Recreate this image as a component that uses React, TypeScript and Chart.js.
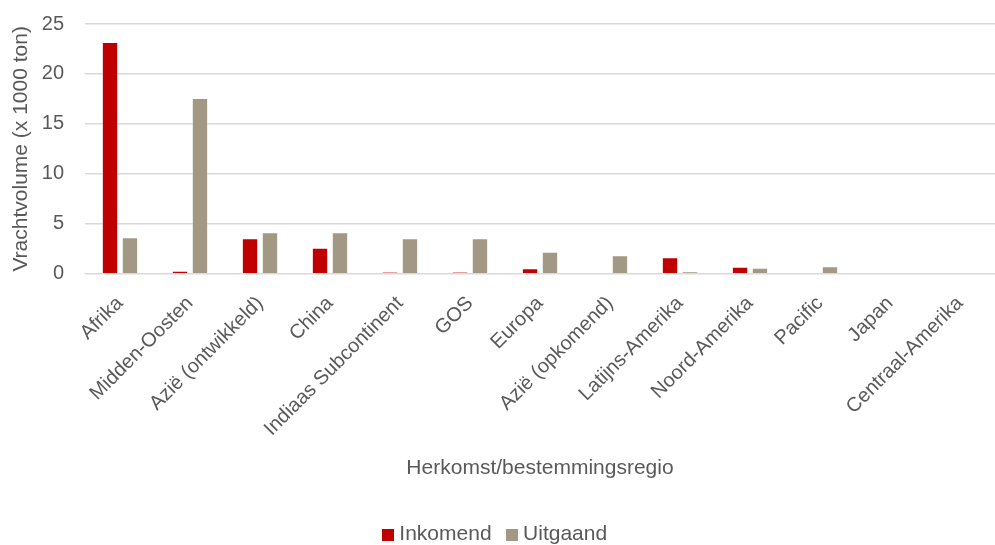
import React, { useEffect, useRef } from "react";
import { Chart, registerables } from "chart.js";

Chart.register(...registerables);

const categories = [
  "Afrika",
  "Midden-Oosten",
  "Azië (ontwikkeld)",
  "China",
  "Indiaas Subcontinent",
  "GOS",
  "Europa",
  "Azië (opkomend)",
  "Latijns-Amerika",
  "Noord-Amerika",
  "Pacific",
  "Japan",
  "Centraal-Amerika",
];

const inkomend = [23.2, 0.3, 3.55, 2.6, 0.15, 0.15, 0.55, 0, 1.65, 0.7, 0, 0.05, 0];
const uitgaand = [3.65, 17.6, 4.15, 4.15, 3.55, 3.55, 2.2, 1.85, 0.2, 0.6, 0.75, 0.05, 0.05];

const yTicks = [0, 5, 10, 15, 20, 25];

const seriesColors = ["#c00000", "#a29884"];

function makeSwatch(color: string): HTMLCanvasElement {
  const c = document.createElement("canvas");
  c.width = 12;
  c.height = 12;
  const g = c.getContext("2d");
  if (g) {
    g.fillStyle = color;
    g.fillRect(0, 0, 12, 12);
  }
  return c;
}

export default function App() {
  const ref = useRef<HTMLCanvasElement | null>(null);

  useEffect(() => {
    document.body.style.margin = "0";
    const ctx = ref.current;
    if (!ctx) return;
    const font = "'Liberation Sans', Arial, sans-serif";
    const swatches = seriesColors.map(makeSwatch);
    const chart = new Chart(ctx, {
      type: "bar",
      data: {
        labels: categories,
        datasets: [
          {
            label: "Inkomend",
            data: inkomend,
            backgroundColor: seriesColors[0],
            borderColor: "rgba(255,255,255,0.4)",
            borderWidth: 1,
            categoryPercentage: 0.57,
            barPercentage: 0.82,
          },
          {
            label: "Uitgaand",
            data: uitgaand,
            backgroundColor: seriesColors[1],
            borderColor: "rgba(255,255,255,0.4)",
            borderWidth: 1,
            categoryPercentage: 0.57,
            barPercentage: 0.82,
          },
        ],
      },
      options: {
        animation: false,
        responsive: false,
        maintainAspectRatio: false,
        layout: { padding: { top: 3, right: 0, left: 0, bottom: 0 } },
        plugins: {
          tooltip: { enabled: false },
          legend: {
            position: "bottom",
            labels: {
              color: "#595959",
              font: { family: font, size: 21 },
              usePointStyle: true,
              boxWidth: 1,
              boxHeight: 12,
              padding: 20,
              generateLabels: (ch: any) => {
                const items = Chart.defaults.plugins.legend.labels.generateLabels(ch);
                return items.map((it: any, i: number) => ({
                  ...it,
                  pointStyle: swatches[i % swatches.length],
                  lineWidth: 0,
                }));
              },
            },
          },
        },
        scales: {
          x: {
            grid: { display: false },
            border: { display: false },
            ticks: {
              color: "#595959",
              font: { family: font, size: 20 },
              maxRotation: 45,
              minRotation: 45,
              autoSkip: false,
              padding: 10,
            },
            title: {
              display: true,
              text: "Herkomst/bestemmingsregio",
              color: "#595959",
              font: { family: font, size: 21 },
              padding: { top: 5, bottom: 23 },
            },
          },
          y: {
            min: 0,
            max: 25,
            afterBuildTicks: (axis: any) => {
              axis.ticks = yTicks.map((v) => ({ value: v }));
            },
            afterFit: (axis: any) => {
              axis.width = 85;
            },
            grid: {
              color: "#d9d9d9",
              lineWidth: 1.5,
              drawTicks: true,
              tickLength: 9,
              tickColor: "rgba(0,0,0,0)",
            },
            border: { display: false },
            ticks: {
              color: "#595959",
              font: { family: font, size: 20 },
              padding: 12,
            },
            title: {
              display: true,
              text: "Vrachtvolume (x 1000 ton)",
              color: "#595959",
              font: { family: font, size: 21 },
              padding: { top: 9, bottom: 0 },
            },
          },
        },
      },
    });
    return () => chart.destroy();
  }, []);

  return (
    <div style={{ width: 995, height: 545, overflow: "hidden" }}>
      <canvas ref={ref} width={995} height={555} style={{ display: "block" }} />
    </div>
  );
}
